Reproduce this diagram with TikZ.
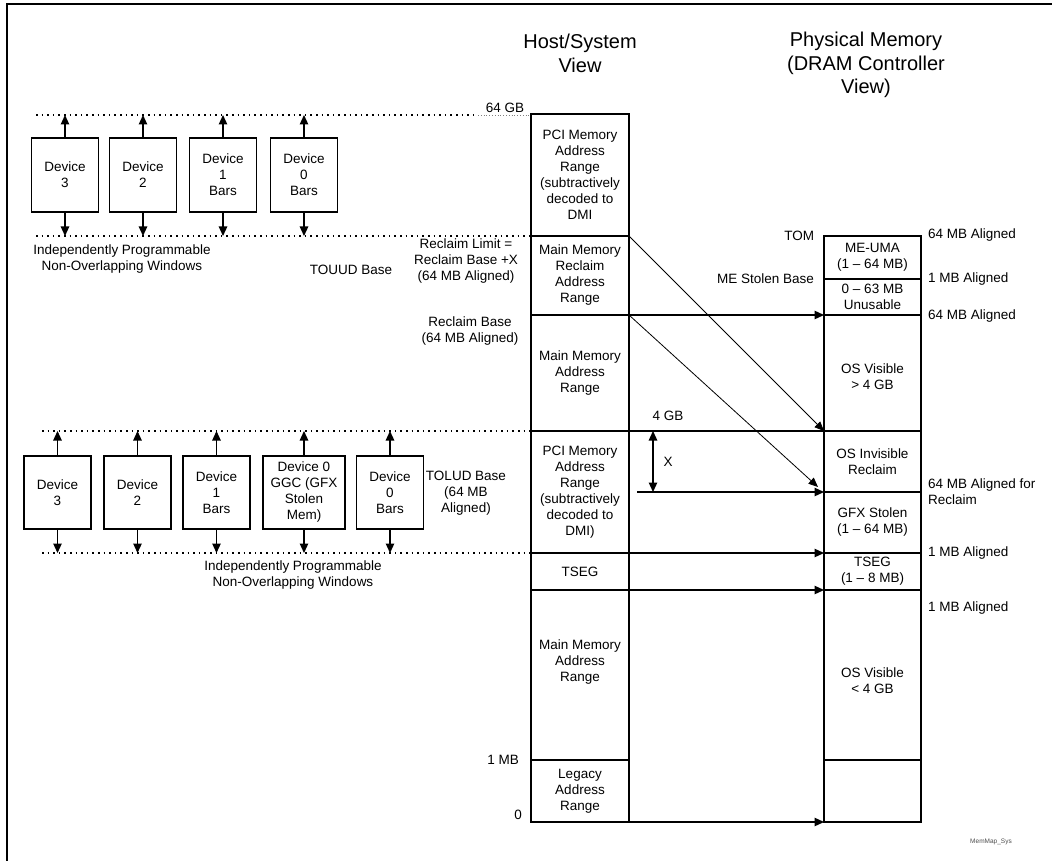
\documentclass[tikz,border=0pt]{standalone}
\usepackage{fontspec}
\setmainfont{Liberation Sans}
\usetikzlibrary{arrows.meta}
\begin{document}
\begin{tikzpicture}[x=1pt,y=-1pt,
  every node/.style={font=\fontsize{13.5}{16}\selectfont, align=center, inner sep=0pt, outer sep=0pt},
  cell/.style={draw, line width=1.2pt, minimum width=98pt},
  pcell/.style={draw, line width=1.2pt, minimum width=97pt},
  dev/.style={draw, line width=1.2pt, minimum width=67pt, minimum height=74pt},
  arr/.style={line width=1.2pt, -{Triangle[length=9.5pt,width=8.5pt]}},
  darr/.style={line width=1.2pt, {Triangle[length=9.5pt,width=8.5pt]}-{Triangle[length=9.5pt,width=8.5pt]}},
  diag/.style={line width=0.8pt, -{Triangle[length=9.5pt,width=8pt]}},
  conn/.style={line width=1.2pt},
  dotl/.style={line width=1.6pt, dash pattern=on 1.6pt off 4pt},
  faint/.style={gray, line width=0.6pt, dash pattern=on 0.6pt off 2.2pt},
  hdr/.style={font=\fontsize{20}{23.3}\selectfont},
  rlab/.style={anchor=west, align=left},
]
\useasboundingbox (0,0) rectangle (1052,861);

% frame
\coordinate (fa) at (7,861);
\coordinate (fb) at (7,4);
\coordinate (fc) at (1052,4);
\draw[line width=2pt, line join=miter] (fa) -- (fb) -- (fc);

% headers
\node[hdr] (hh) at (580,53.3) {Host/System\\View};
\node[hdr] (ph) at (866,65) {Physical Memory\\(DRAM Controller\\View)};

% host column
\node[cell, minimum height=122pt] (h1) at (580,175) {PCI Memory\\Address\\Range\\(subtractively\\decoded to\\DMI};
\node[cell, minimum height=79pt] (h2) at (580,275.5) {Main Memory\\Reclaim\\Address\\Range};
\node[cell, minimum height=116pt] (h3) at (580,373) {Main Memory\\Address\\Range};
\node[cell, minimum height=122pt] (h4) at (580,492) {PCI Memory\\Address\\Range\\(subtractively\\decoded to\\DMI)};
\node[cell, minimum height=37pt] (h5) at (580,571.5) {TSEG};
\node[cell, minimum height=170pt] (h6) at (580,675) {};
\node (h6t) at (580,661.7) {Main Memory\\Address\\Range};
\node[cell, minimum height=62pt] (h7) at (580,791) {Legacy\\Address\\Range};

% physical column
\node[pcell, minimum height=43pt] (p1) at (872.5,257.5) {ME-UMA\\(1 – 64 MB)};
\node[pcell, minimum height=36pt] (p2) at (872.5,297) {0 – 63 MB\\Unusable};
\node[pcell, minimum height=116pt] (p3) at (872.5,373) {};
\node (p3t) at (872.5,376.4) {OS Visible\\> 4 GB};
\node[pcell, minimum height=61pt] (p4) at (872.5,461.5) {OS Invisible\\Reclaim};
\node[pcell, minimum height=61pt] (p5) at (872.5,522.5) {GFX Stolen\\(1 – 64 MB)};
\node[pcell, minimum height=37pt] (p6) at (872.5,571.5) {TSEG\\(1 – 8 MB)};
\node[pcell, minimum height=170pt] (p7) at (872.5,675) {};
\node (p7t) at (872.5,680.5) {OS Visible\\< 4 GB};
\node[pcell, minimum height=62pt] (p8) at (872.5,791) {};

% dotted window lines
\coordinate (t1a) at (36,115);
\coordinate (t1b) at (478,115);
\coordinate (t1c) at (531,115);
\coordinate (b1a) at (36,236);
\coordinate (b1b) at (531,236);
\coordinate (t2a) at (42,431);
\coordinate (t2b) at (531,431);
\coordinate (b2a) at (42,553);
\coordinate (b2b) at (531,553);
\draw[dotl] (t1a) -- (t1b);
\draw[faint] (t1b) -- (t1c);
\draw[dotl] (b1a) -- (b1b);
\draw[dotl] (t2a) -- (t2b);
\draw[dotl] (b2a) -- (b2b);

% devices row 1
\node[dev] (d13) at (65,175) {Device\\3};
\node[dev] (d12) at (143,175) {Device\\2};
\node[dev] (d11) at (223,175) {Device\\1\\Bars};
\node[dev] (d10) at (304,175) {Device\\0\\Bars};
\foreach \n in {d13,d12,d11,d10} {
  \draw[arr] (\n.north) -- (\n.north |- t1a);
  \draw[arr] (\n.south) -- (\n.south |- b1a);
}

% devices row 2
\node[dev, minimum height=73pt] (d23) at (57.5,492.5) {Device\\3};
\node[dev, minimum height=73pt] (d22) at (137.5,492.5) {Device\\2};
\node[dev, minimum height=73pt] (d21) at (216.5,492.5) {Device\\1\\Bars};
\node[dev, minimum height=73pt, minimum width=82pt] (d2g) at (304,492.5) {Device 0\\GGC (GFX\\Stolen\\Mem)};
\node[dev, minimum height=73pt] (d20) at (390,492.5) {Device\\0\\Bars};
\foreach \n in {d23,d22,d21,d2g,d20} {
  \draw[arr] (\n.north) -- (\n.north |- t2a);
  \draw[arr] (\n.south) -- (\n.south |- b2a);
}

% labels left
\node (g64) at (505,108) {64 GB};
\node (ipw1) at (122,259) {Independently Programmable\\Non-Overlapping Windows};
\node (touud) at (351,270) {TOUUD Base};
\node (rlim) at (466,261) {Reclaim Limit =\\Reclaim Base +X\\(64 MB Aligned)};
\node (rbase) at (470,331) {Reclaim Base\\(64 MB Aligned)};
\node (tolud) at (466,493) {TOLUD Base\\(64 MB\\Aligned)};
\node (ipw2) at (293,575) {Independently Programmable\\Non-Overlapping Windows};
\node[anchor=east] (m1) at (519,760) {1 MB};
\node (z0) at (518,815) {0};

% middle labels
\node (g4) at (668,416) {4 GB};
\node (xl) at (668,462) {X};
\node[anchor=east] (tom) at (814,236) {TOM};
\node[anchor=east] (mesb) at (814,279) {ME Stolen Base};

% right labels
\node[rlab] (a1) at (928,235) {64 MB Aligned};
\node[rlab] (a2) at (928,279) {1 MB Aligned};
\node[rlab] (a3) at (928,316) {64 MB Aligned};
\node[rlab] (a4) at (928,491.5) {64 MB Aligned for\\Reclaim};
\node[rlab] (a5) at (928,553) {1 MB Aligned};
\node[rlab] (a6) at (928,608) {1 MB Aligned};

% connectors
\draw[diag] (h2.north east) -- (p4.north west);
\coordinate (rc) at (818,487);
\draw[diag] (h3.north east) -- (rc);
\draw[arr] (h3.north east) -- (p3.north west);
\draw[conn] (h4.north east) -- (p4.north west);
\coordinate (xs) at (637,492);
\draw[arr] (xs) -- (p5.north west);
\coordinate (xa) at (653,431);
\coordinate (xb) at (653,492);
\draw[darr] (xa) -- (xb);
\draw[arr] (h5.north east) -- (p6.north west);
\draw[arr] (h6.north east) -- (p7.north west);
\draw[arr] (h7.south east) -- (p8.south west);

% tag
\node[font=\fontsize{6.5}{8}\selectfont, text=black!70] (tag) at (991,842) {MemMap\_Sys};
\end{tikzpicture}
\end{document}
